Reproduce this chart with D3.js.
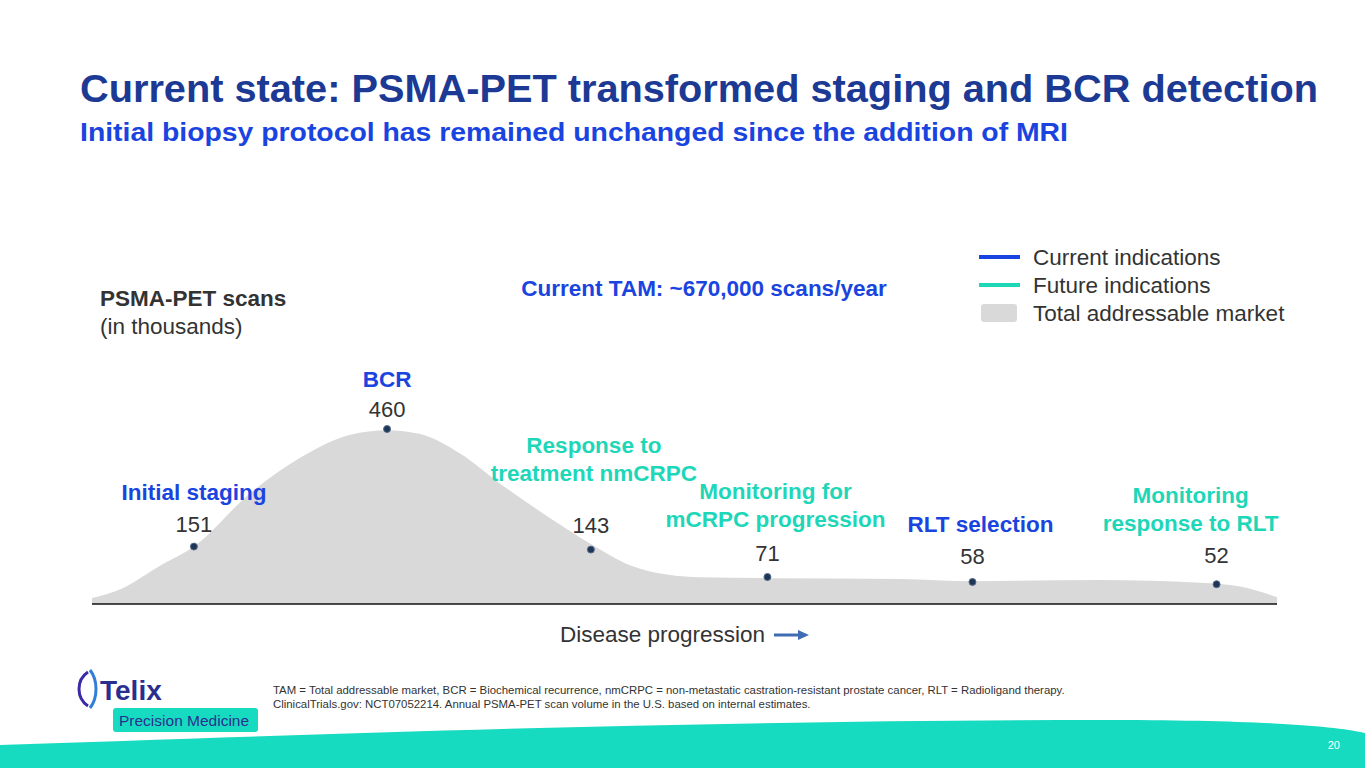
<!DOCTYPE html>
<html><head><meta charset="utf-8">
<script src="https://cdn.jsdelivr.net/npm/d3@7"></script>
<style>body{margin:0;background:#fff;overflow:hidden}svg{display:block;font-family:"Liberation Sans",Arial,sans-serif}</style>
</head><body><div id="stage"></div>
<script>
// stages along disease progression (0-100), scans in thousands
const stages = ['Initial staging', 'BCR', 'Response to treatment nmCRPC', 'Monitoring for mCRPC progression', 'RLT selection', 'Monitoring response to RLT']
const stageLines = [['Initial staging'], ['BCR'], ['Response to', 'treatment nmCRPC'], ['Monitoring for', 'mCRPC progression'], ['RLT selection'], ['Monitoring', 'response to RLT']]
const stageKind = ['current', 'current', 'future', 'future', 'current', 'future']
const stagePos = [8.6, 24.9, 42.1, 57.0, 74.3, 94.9]
const scans = [151, 460, 143, 71, 58, 52]
// outline of the total addressable market shape
const tamPos = [0, 2.4, 5.7, 8.6, 13.3, 17.6, 21.8, 24.9, 27.7, 31.1, 34.5, 38.7, 42.1, 45.4, 48.8, 51.3, 57.0, 68.2, 74.3, 85.1, 93.5, 96.9, 100]
const tamVal = [16, 39, 100, 151, 290, 385, 445, 457, 447, 395, 315, 225, 158, 102, 76, 70, 68, 66, 60, 63, 56, 46, 18]

const colors = { current: '#1a44e0', future: '#1ed6b8' }
const W = 1365, H = 768
const s = d3.select('#stage').append('svg').attr('width', W).attr('height', H)

const x = d3.scaleLinear().domain([0, 100]).range([92, 1277])
const y = d3.scaleLinear().domain([0, 460]).range([604, 429])

// titles
s.append('text').attr('x', 80).attr('y', 102).attr('font-size', 39.5).attr('font-weight', 'bold').attr('fill', '#1c3a94')
  .attr('textLength', 1238).attr('lengthAdjust', 'spacingAndGlyphs')
  .text('Current state: PSMA-PET transformed staging and BCR detection')
s.append('text').attr('x', 80).attr('y', 141).attr('font-size', 25).attr('font-weight', 'bold').attr('fill', '#1a44e0')
  .attr('textLength', 988).attr('lengthAdjust', 'spacingAndGlyphs')
  .text('Initial biopsy protocol has remained unchanged since the addition of MRI')

s.append('text').attr('x', 100).attr('y', 306).attr('font-size', 22.5).attr('font-weight', 'bold').attr('fill', '#333').text('PSMA-PET scans')
s.append('text').attr('x', 100).attr('y', 334).attr('font-size', 22.5).attr('fill', '#333').text('(in thousands)')
s.append('text').attr('x', 704).attr('y', 296).attr('text-anchor', 'middle').attr('font-size', 22.5).attr('font-weight', 'bold').attr('fill', '#1a44e0')
  .text('Current TAM: ~670,000 scans/year')

// legend
const leg = [['line', colors.current, 'Current indications'], ['line', colors.future, 'Future indications'], ['box', '#d9d9d9', 'Total addressable market']]
leg.forEach((d, i) => {
  const ly = 257 + i * 28
  if (d[0] === 'line') s.append('line').attr('x1', 979).attr('x2', 1020).attr('y1', ly).attr('y2', ly).attr('stroke', d[1]).attr('stroke-width', 4)
  else s.append('rect').attr('x', 981).attr('y', ly - 9).attr('width', 36).attr('height', 18).attr('rx', 3).attr('fill', d[1])
  s.append('text').attr('x', 1033).attr('y', ly + 8).attr('font-size', 22.5).attr('fill', '#333').text(d[2])
})

// area
const area = d3.area().x(d => x(d[0])).y0(y(0)).y1(d => y(d[1])).curve(d3.curveMonotoneX)
s.append('path').datum(d3.zip(tamPos, tamVal)).attr('d', area).attr('fill', '#d9d9d9')
s.append('line').attr('x1', x(0)).attr('x2', x(100)).attr('y1', y(0)).attr('y2', y(0)).attr('stroke', '#111').attr('stroke-width', 1.5)

// points and labels (offsets are label placement above each point)
const numOff = [23, 20, 25, 24, 26, 29]
const labOff = [55, 50, 77, 58, 58, 61]
const labDx = [0, 0, 3, 8, 8, -26]
stages.forEach((st, i) => {
  const px = x(stagePos[i]), py = y(scans[i])
  s.append('circle').attr('cx', px).attr('cy', py).attr('r', 3.5).attr('fill', '#1d3557').attr('stroke', '#5a6d8a').attr('stroke-width', 1)
  s.append('text').attr('x', px).attr('y', py - numOff[i] + 8).attr('text-anchor', 'middle').attr('font-size', 22).attr('fill', '#333').text(scans[i])
  const lines = stageLines[i]
  lines.forEach((t, j) => {
    s.append('text').attr('x', px + labDx[i]).attr('y', py - labOff[i] + 8 - (lines.length - 1 - j) * 28)
      .attr('text-anchor', 'middle').attr('font-size', 22.5).attr('font-weight', 'bold').attr('fill', colors[stageKind[i]]).text(t)
  })
})

// disease progression axis label
s.append('text').attr('x', 765).attr('y', 642).attr('text-anchor', 'end').attr('font-size', 22.5).attr('fill', '#333').text('Disease progression')
s.append('line').attr('x1', 774).attr('x2', 800).attr('y1', 635).attr('y2', 635).attr('stroke', '#3f6db3').attr('stroke-width', 3)
s.append('path').attr('d', 'M798,630 L809,635 L798,640 Z').attr('fill', '#3f6db3')

// footnote
s.append('text').attr('x', 273).attr('y', 694).attr('font-size', 11.4).attr('fill', '#333')
  .text('TAM = Total addressable market, BCR = Biochemical recurrence, nmCRPC = non-metastatic castration-resistant prostate cancer, RLT = Radioligand therapy.')
s.append('text').attr('x', 273).attr('y', 708).attr('font-size', 11.4).attr('fill', '#333')
  .text('ClinicalTrials.gov: NCT07052214. Annual PSMA-PET scan volume in the U.S. based on internal estimates.')

// bottom wave
s.append('path').attr('d', 'M0,745 C300,735 700,720 1100,720 C1250,720 1330,725 1365,733 L1365,768 L0,768 Z').attr('fill', '#17dbc0')
s.append('text').attr('x', 1340).attr('y', 749).attr('text-anchor', 'end').attr('font-size', 11).attr('fill', '#fff').text('20')

// logo
s.append('path').attr('d', 'M88,672 C76,680 76,698 88,706').attr('fill', 'none').attr('stroke', '#3b2aa8').attr('stroke-width', 3)
s.append('path').attr('d', 'M90,670 C98,680 98,698 90,708').attr('fill', 'none').attr('stroke', '#2f7fd9').attr('stroke-width', 3)
s.append('text').attr('x', 100).attr('y', 700).attr('font-size', 28).attr('font-weight', 'bold').attr('fill', '#2a2f8f').text('Telix')
s.append('rect').attr('x', 113).attr('y', 708).attr('width', 145).attr('height', 24).attr('rx', 3).attr('fill', '#17dbc0')
s.append('text').attr('x', 119).attr('y', 726).attr('font-size', 15.5).attr('fill', '#2a2f8f').text('Precision Medicine')
</script></body></html>
